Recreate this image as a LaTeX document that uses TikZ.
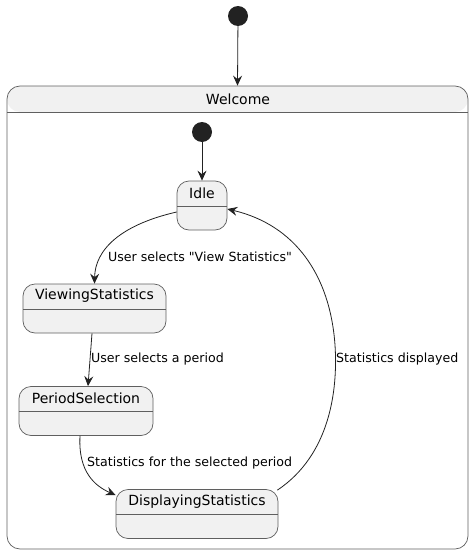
\documentclass[tikz,border=0pt]{standalone}
\usepackage{fontspec}
\setmainfont{DejaVu Sans}[Ligatures=TeXOff]
\usepackage{tikz}
\definecolor{stfill}{RGB}{241, 241, 241}
\definecolor{stline}{RGB}{95, 95, 95}
\definecolor{arline}{RGB}{34, 34, 34}
\usetikzlibrary{arrows.meta}

\begin{document}
\begin{tikzpicture}[x=1pt, y=1pt,
  start/.style={circle, minimum size=20pt, inner sep=0pt, fill=arline},
  st/.style={draw=stline, fill=stfill, line width=0.7pt, rounded corners=12pt, minimum height=49pt, inner sep=0pt,
    path picture={\draw [stline, line width=0.7pt] ([yshift=-25pt]path picture bounding box.north west) -- ([yshift=-25pt]path picture bounding box.north east);}},
  comp/.style={draw=stline, line width=0.7pt, rounded corners=13pt, inner sep=0pt,
    path picture={\fill [stfill] (path picture bounding box.north west) rectangle ([yshift=-26pt]path picture bounding box.north east);
      \draw [stline, line width=0.7pt] ([yshift=-26pt]path picture bounding box.north west) -- ([yshift=-26pt]path picture bounding box.north east);}},
  title/.style={inner sep=0pt, font=\fontsize{14pt}{17pt}\selectfont},
  tr/.style={line width=0.8pt, color=arline, -{Stealth[length=10pt, width=9pt, inset=3.5pt]}},
  lab/.style={anchor=west, inner sep=0pt, font=\fontsize{12.6pt}{15pt}\selectfont}]
\useasboundingbox (0,0) rectangle (475,-554);
\node (welcome) [comp, minimum width=461pt, minimum height=463pt] at (237.5, -317.5) {};
\node (welcome-t) [title] at (238, -99) {Welcome};
\node (init1) [start] at (238, -16) {};
\node (init2) [start] at (202, -132) {};
\node (idle) [st, minimum width=50pt] at (202, -205.5) {};
\node (idle-t) [title] at (202, -193) {Idle};
\node (viewing) [st, minimum width=143pt] at (94.5, -308.5) {};
\node (viewing-t) [title] at (94.5, -296) {ViewingStatistics};
\node (period) [st, minimum width=134pt] at (86, -411) {};
\node (period-t) [title] at (86, -398.5) {PeriodSelection};
\node (displaying) [st, minimum width=162pt] at (197, -514) {};
\node (displaying-t) [title] at (197, -501.5) {DisplayingStatistics};
\node (lab1) [lab] at (108, -257) {User selects "View Statistics"};
\node (lab2) [lab] at (91, -359) {User selects a period};
\node (lab3) [lab] at (87, -463) {Statistics for the selected period};
\node (lab4) [lab] at (336, -359) {Statistics displayed};
\draw [tr] (init1) -- (welcome.north);
\draw [tr] (init2) -- (idle.north);
\draw [tr] ([yshift=-6.5pt]idle.west) .. controls (120, -225) and (95, -250) .. (viewing.north);
\draw [tr] ([xshift=-2.5pt]viewing.south) -- ([xshift=2pt]period.north);
\draw [tr] ([xshift=-6pt]period.south) .. controls (78, -472) and (95, -486) .. ([yshift=-6pt]displaying.north west);
\draw [tr] ([xshift=-1pt, yshift=-1pt]displaying.north east) .. controls (330, -455) and (338, -390) .. (335, -345) .. controls (330, -275) and (295, -225) .. ([yshift=-3.5pt]idle.east);
\end{tikzpicture}
\end{document}
